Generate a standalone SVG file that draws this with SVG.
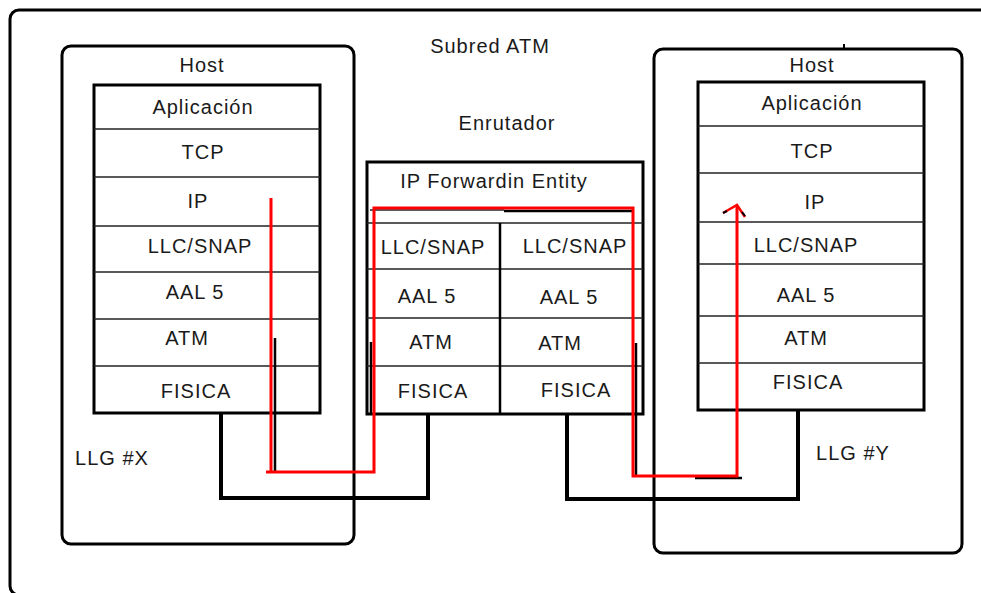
<svg xmlns="http://www.w3.org/2000/svg" width="981" height="593" viewBox="0 0 981 593">
<style>
text{font-family:"Liberation Sans",Arial,sans-serif;font-size:20px;letter-spacing:1px;fill:#1a1a1a;text-anchor:middle}
.frame{fill:none;stroke:#000;stroke-width:3}
.box{fill:#fff;stroke:#000;stroke-width:3}
.row{stroke:#222;stroke-width:1.6}
.wire{fill:none;stroke:#000;stroke-width:4}
.red{fill:none;stroke:#f00;stroke-width:3}
.blk{fill:none;stroke:#000;stroke-width:2.5}
</style>
<rect width="981" height="593" fill="#fff"/>
<g id="subred">
<rect class="frame" x="10" y="10" width="1000" height="585" rx="9"/>
<text x="490" y="53">Subred ATM</text>
</g>
<g id="hostX">
<rect class="frame" x="62" y="46" width="292" height="498" rx="9"/>
<text x="202" y="72">Host</text>
<rect class="box" x="94" y="85" width="226" height="328"/>
<line class="row" x1="94" y1="129" x2="320" y2="129"/>
<line class="row" x1="94" y1="177" x2="320" y2="177"/>
<line class="row" x1="94" y1="226" x2="320" y2="226"/>
<line class="row" x1="94" y1="272" x2="320" y2="272"/>
<line class="row" x1="94" y1="319" x2="320" y2="319"/>
<line class="row" x1="94" y1="366" x2="320" y2="366"/>
<text x="203" y="114">Aplicación</text>
<text x="203" y="159">TCP</text>
<text x="198" y="208">IP</text>
<text x="200" y="253">LLC/SNAP</text>
<text x="195" y="299">AAL 5</text>
<text x="187" y="345">ATM</text>
<text x="196" y="398">FISICA</text>
<text x="112" y="465">LLG #X</text>
</g>
<g id="router">
<text x="507" y="130">Enrutador</text>
<rect class="box" x="367" y="162" width="276" height="252"/>
<line class="row" x1="370" y1="210" x2="504" y2="210"/>
<line class="row" x1="367" y1="223" x2="643" y2="223"/>
<line class="row" x1="367" y1="269" x2="643" y2="269"/>
<line class="row" x1="367" y1="318" x2="643" y2="318"/>
<line class="row" x1="367" y1="366" x2="643" y2="366"/>
<line x1="500" y1="223" x2="500" y2="414" stroke="#000" stroke-width="2.5"/>
<text x="494" y="188">IP Forwardin Entity</text>
<text x="433" y="254">LLC/SNAP</text>
<text x="575" y="253">LLC/SNAP</text>
<text x="427" y="303">AAL 5</text>
<text x="569" y="304">AAL 5</text>
<text x="431" y="349">ATM</text>
<text x="560" y="350">ATM</text>
<text x="433" y="398">FISICA</text>
<text x="576" y="397">FISICA</text>
</g>
<g id="hostY">
<rect class="frame" x="654" y="49" width="308" height="504" rx="9"/>
<line x1="844" y1="44" x2="844" y2="49" stroke="#000" stroke-width="2"/>
<text x="812" y="72">Host</text>
<rect class="box" x="698" y="82" width="226" height="328"/>
<line class="row" x1="698" y1="126" x2="924" y2="126"/>
<line class="row" x1="698" y1="173" x2="924" y2="173"/>
<line class="row" x1="698" y1="222" x2="924" y2="222"/>
<line class="row" x1="698" y1="264" x2="924" y2="264"/>
<line class="row" x1="698" y1="316" x2="924" y2="316"/>
<line class="row" x1="698" y1="363" x2="924" y2="363"/>
<text x="812" y="110">Aplicación</text>
<text x="812" y="158">TCP</text>
<text x="815" y="209">IP</text>
<text x="806" y="252">LLC/SNAP</text>
<text x="806" y="302">AAL 5</text>
<text x="806" y="345">ATM</text>
<text x="808" y="389">FISICA</text>
<text x="853" y="460">LLG #Y</text>
</g>
<g id="connectors">
<polyline class="wire" points="221,413 221,498 428,498 428,414"/>
<polyline class="wire" points="567,414 567,499 798,499 798,410"/>
<line class="blk" x1="275" y1="338" x2="275" y2="472"/>
<line class="blk" x1="371" y1="342" x2="371" y2="414"/>
<line class="blk" x1="504" y1="211" x2="632" y2="211"/>
<line class="blk" x1="636" y1="343" x2="636" y2="476"/>
<line class="blk" x1="695" y1="478" x2="742" y2="478"/>
<polyline class="red" points="271,198 271,472 266,472 374,472 374,208 633,208 633,476 737,476 737,206"/>
<polyline fill="none" stroke="#f00" stroke-width="2.5" points="723,213 737,205 745,217"/>
<line x1="723" y1="213" x2="727" y2="211" stroke="#000" stroke-width="2"/>
<line x1="742" y1="212" x2="745" y2="216" stroke="#000" stroke-width="2"/>
</g>
</svg>
